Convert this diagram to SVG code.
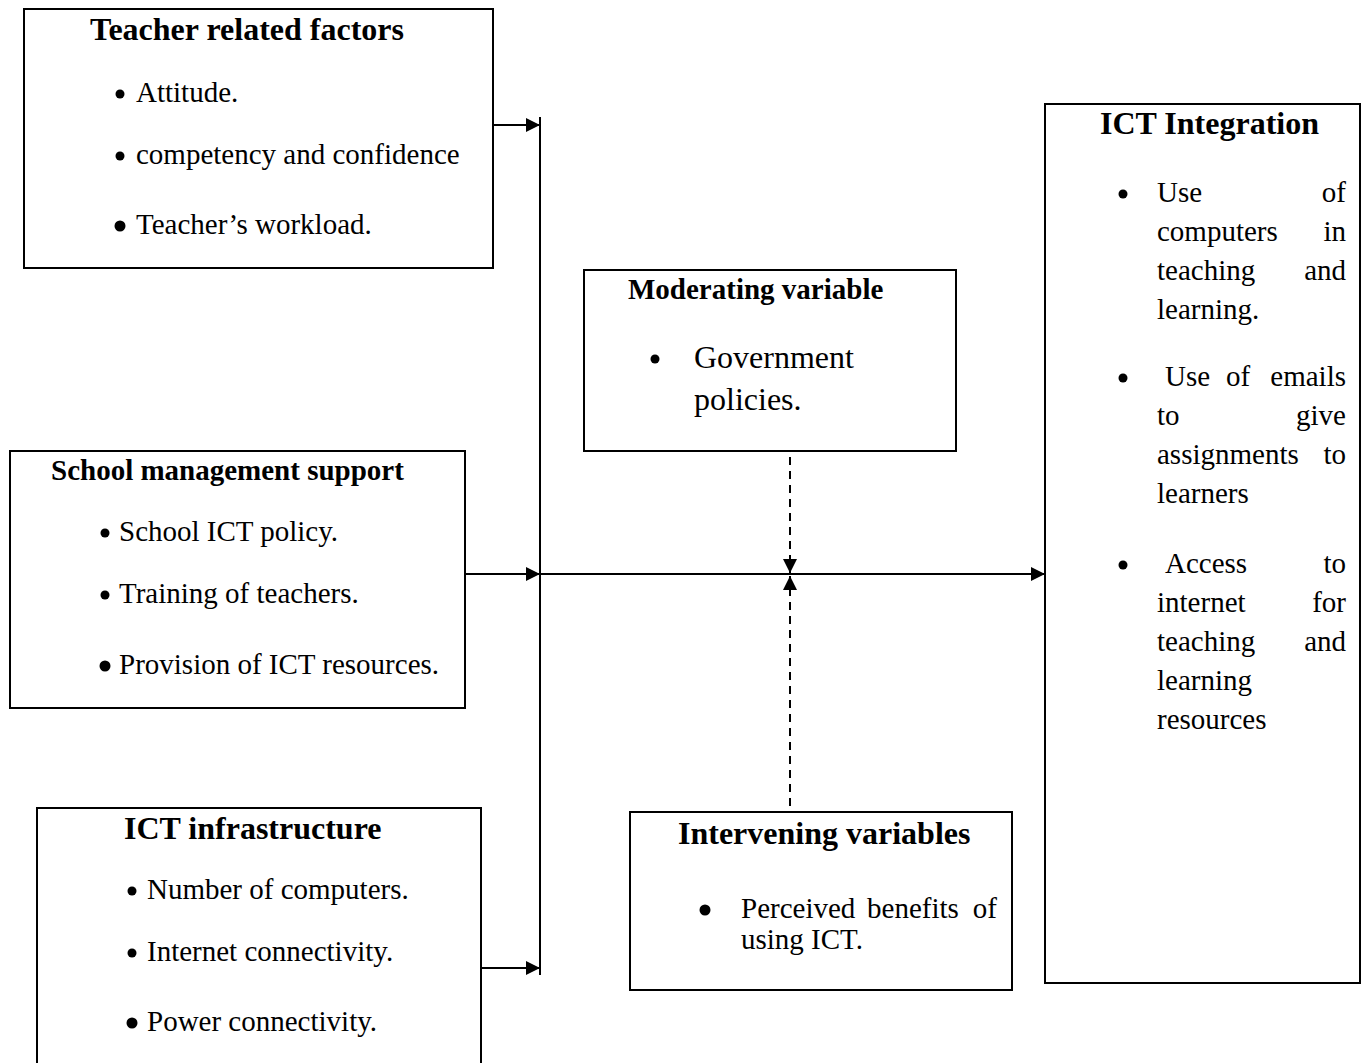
<svg xmlns="http://www.w3.org/2000/svg" width="1365" height="1063" viewBox="0 0 1365 1063">
<defs>
<style>
.box{fill:#fff;stroke:#000;stroke-width:2}
.t{font-family:"Liberation Serif","Times New Roman",serif;fill:#000}
.h{font-weight:bold}
.b{font-size:29px}
.line{stroke:#000;stroke-width:2;fill:none}
.dash{stroke:#000;stroke-width:2;fill:none;stroke-dasharray:8,6}
</style>
<marker id="ah" viewBox="0 0 10 10" refX="10" refY="5" markerWidth="15" markerHeight="14" markerUnits="userSpaceOnUse" orient="auto">
<path d="M0,0 L10,5 L0,10 Z" fill="#000"/>
</marker>
</defs>
<rect width="1365" height="1063" fill="#fff"/>

<g id="teacher">
<rect class="box" x="24" y="9" width="469" height="259"/>
<text class="t h" x="90" y="40" font-size="32">Teacher related factors</text>
<circle cx="120" cy="94" r="4.5"/>
<text class="t b" x="136" y="102">Attitude.</text>
<circle cx="120" cy="156" r="4.5"/>
<text class="t b" x="136" y="164">competency and confidence</text>
<circle cx="120" cy="226" r="5.5"/>
<text class="t b" x="136" y="234">Teacher’s workload.</text>
</g>

<g id="school">
<rect class="box" x="10" y="451" width="455" height="257"/>
<text class="t h" x="51" y="480" font-size="29">School management support</text>
<circle cx="105" cy="533" r="4.5"/>
<text class="t b" x="119" y="541">School ICT policy.</text>
<circle cx="105" cy="595" r="4.5"/>
<text class="t b" x="119" y="603">Training of teachers.</text>
<circle cx="105" cy="666" r="5.5"/>
<text class="t b" x="119" y="674">Provision of ICT resources.</text>
</g>

<g id="infra">
<rect class="box" x="37" y="808" width="444" height="270"/>
<text class="t h" x="124" y="839" font-size="32">ICT infrastructure</text>
<circle cx="132" cy="891" r="4.5"/>
<text class="t b" x="147" y="899">Number of computers.</text>
<circle cx="132" cy="953" r="4.5"/>
<text class="t b" x="147" y="961">Internet connectivity.</text>
<circle cx="132" cy="1023" r="5.5"/>
<text class="t b" x="147" y="1031">Power connectivity.</text>
</g>

<g id="moderating">
<rect class="box" x="584" y="270" width="372" height="181"/>
<text class="t h" x="628" y="299" font-size="29">Moderating variable</text>
<circle cx="655" cy="359" r="4.5"/>
<text class="t" x="694" y="368" font-size="32">Government</text>
<text class="t" x="694" y="410" font-size="32">policies.</text>
</g>

<g id="intervening">
<rect class="box" x="630" y="812" width="382" height="178"/>
<text class="t h" x="678" y="844" font-size="32">Intervening variables</text>
<circle cx="705" cy="910" r="5.5"/>
<text class="t b" x="741" y="918">Perceived</text>
<text class="t b" x="913" y="918" text-anchor="middle">benefits</text>
<text class="t b" x="997" y="918" text-anchor="end">of</text>
<text class="t b" x="741" y="949">using ICT.</text>
</g>

<g id="integration">
<rect class="box" x="1045" y="104" width="315" height="879"/>
<text class="t h" x="1100" y="134" font-size="32">ICT Integration</text>
<circle cx="1123" cy="194" r="4.5"/>
<text class="t b" x="1157" y="202">Use</text>
<text class="t b" x="1346" y="202" text-anchor="end">of</text>
<text class="t b" x="1157" y="241">computers</text>
<text class="t b" x="1346" y="241" text-anchor="end">in</text>
<text class="t b" x="1157" y="280">teaching</text>
<text class="t b" x="1346" y="280" text-anchor="end">and</text>
<text class="t b" x="1157" y="319">learning.</text>
<circle cx="1123" cy="378" r="4.5"/>
<text class="t b" x="1165" y="386">Use</text>
<text class="t b" x="1238" y="386" text-anchor="middle">of</text>
<text class="t b" x="1346" y="386" text-anchor="end">emails</text>
<text class="t b" x="1157" y="425">to</text>
<text class="t b" x="1346" y="425" text-anchor="end">give</text>
<text class="t b" x="1157" y="464">assignments</text>
<text class="t b" x="1346" y="464" text-anchor="end">to</text>
<text class="t b" x="1157" y="503">learners</text>
<circle cx="1123" cy="565" r="4.5"/>
<text class="t b" x="1165" y="573">Access</text>
<text class="t b" x="1346" y="573" text-anchor="end">to</text>
<text class="t b" x="1157" y="612">internet</text>
<text class="t b" x="1346" y="612" text-anchor="end">for</text>
<text class="t b" x="1157" y="651">teaching</text>
<text class="t b" x="1346" y="651" text-anchor="end">and</text>
<text class="t b" x="1157" y="690">learning</text>
<text class="t b" x="1157" y="729">resources</text>
</g>

<g id="connectors">
<line class="line" x1="540" y1="117" x2="540" y2="975"/>
<line class="line" x1="493" y1="125" x2="540" y2="125" marker-end="url(#ah)"/>
<line class="line" x1="465" y1="574" x2="540" y2="574" marker-end="url(#ah)"/>
<line class="line" x1="481" y1="968" x2="540" y2="968" marker-end="url(#ah)"/>
<line class="line" x1="540" y1="574" x2="1045" y2="574" marker-end="url(#ah)"/>
<line class="dash" x1="790" y1="457" x2="790" y2="573" marker-end="url(#ah)"/>
<line class="dash" x1="790" y1="806" x2="790" y2="576" marker-end="url(#ah)"/>
</g>
</svg>
